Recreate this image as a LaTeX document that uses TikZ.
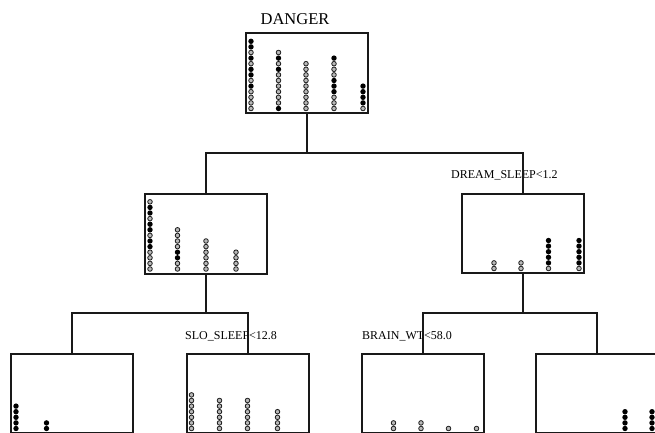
\documentclass[tikz,border=0pt]{standalone}
\usepackage{fontspec}
\setmainfont{Liberation Serif}
\newcommand\dcol[4]{%
  \foreach \t [count=\i from 0] in {#4}{%
    \if b\t
      \fill[black] (#1,{#2-\i*#3}) circle (2.7pt);
    \else
      \filldraw[fill=gray!55,draw=black!90,line width=0.8pt] (#1,{#2-\i*#3}) circle (2.3pt);
    \fi}}
\begin{document}
\begin{tikzpicture}[x=1pt,y=-1pt,
  box/.style={draw=black!90,line width=1.7pt,minimum width=122pt,minimum height=80pt,inner sep=0pt,anchor=north west},
  conn/.style={draw=black!90,line width=1.5pt},
  lbl/.style={inner sep=0pt,anchor=west,font=\fontsize{12}{12}\selectfont}]
\useasboundingbox (0,0) rectangle (655,433);
\clip (0,0) rectangle (655,433);
% title
\node[inner sep=0pt,font=\fontsize{16.5}{16.5}\selectfont] (title) at (295,19) {DANGER};
% boxes
\node[box,minimum height=80pt] (root) at (245,32) {};
\node[box,minimum height=80pt] (L) at (144,193) {};
\node[box,minimum height=79pt] (R) at (461,193) {};
\node[box,minimum height=79pt] (LL) at (10,353) {};
\node[box,minimum height=79pt] (LR) at (186,353) {};
\node[box,minimum height=79pt] (RL) at (361,353) {};
\node[box,minimum height=79pt] (RR) at (535,353) {};
% split labels
\node[lbl] (l1) at (451,175) {DREAM\_SLEEP<1.2};
\node[lbl] (l2) at (185,336) {SLO\_SLEEP<12.8};
\node[lbl] (l3) at (362,336) {BRAIN\_WT<58.0};
% connectors
\coordinate (j1) at (306,153);
\coordinate (j2) at (205,313);
\coordinate (j3) at (522,313);
\draw[conn] (root.south) -- (root.south |- j1);
\draw[conn] (L.north) -- (L.north |- j1) -- (R.north |- j1) -- (R.north);
\draw[conn] (L.south) -- (L.south |- j2);
\draw[conn] (LL.north) -- (LL.north |- j2) -- (LR.north |- j2) -- (LR.north);
\draw[conn] (R.south) -- (R.south |- j3);
\draw[conn] (RL.north) -- (RL.north |- j3) -- (RR.north |- j3) -- (RR.north);
% dots: root (bottom to top)
\dcol{251}{108.5}{5.6}{g,g,g,g,b,g,b,b,g,b,g,b,b}
\dcol{278.5}{108.5}{5.6}{b,g,g,g,g,g,g,b,g,b,g}
\dcol{306}{108.5}{5.6}{g,g,g,g,g,g,g,g,g}
\dcol{334}{108.5}{5.6}{g,g,g,b,b,b,g,g,g,b}
\dcol{363}{108.5}{5.6}{g,b,b,b,b}
% dots: L
\dcol{150}{269}{5.6}{g,g,g,g,b,b,g,b,b,g,b,b,g}
\dcol{177.5}{269}{5.6}{g,g,b,b,g,g,g,g}
\dcol{206}{269}{5.6}{g,g,g,g,g,g}
\dcol{236}{269}{5.6}{g,g,g,g}
% dots: R
\dcol{494}{268.5}{5.6}{g,g}
\dcol{521}{268.5}{5.6}{g,g}
\dcol{548.5}{268.5}{5.6}{g,b,b,b,b,b}
\dcol{579}{268.5}{5.6}{g,b,b,b,b,b}
% dots: LL
\dcol{16}{428.5}{5.6}{b,b,b,b,b}
\dcol{46.5}{428.5}{5.6}{b,b}
% dots: LR
\dcol{191.5}{428.5}{5.6}{g,g,g,g,g,g,g}
\dcol{219.5}{428.5}{5.6}{g,g,g,g,g,g}
\dcol{247.5}{428.5}{5.6}{g,g,g,g,g,g}
\dcol{277.5}{428.5}{5.6}{g,g,g,g}
% dots: RL
\dcol{393.5}{428.5}{5.6}{g,g}
\dcol{421}{428.5}{5.6}{g,g}
\dcol{448.5}{428.5}{5.6}{g}
\dcol{476.5}{428.5}{5.6}{g}
% dots: RR
\dcol{625}{428.5}{5.6}{b,b,b,b}
\dcol{652}{428.5}{5.6}{b,b,b,b}
\end{tikzpicture}
\end{document}
